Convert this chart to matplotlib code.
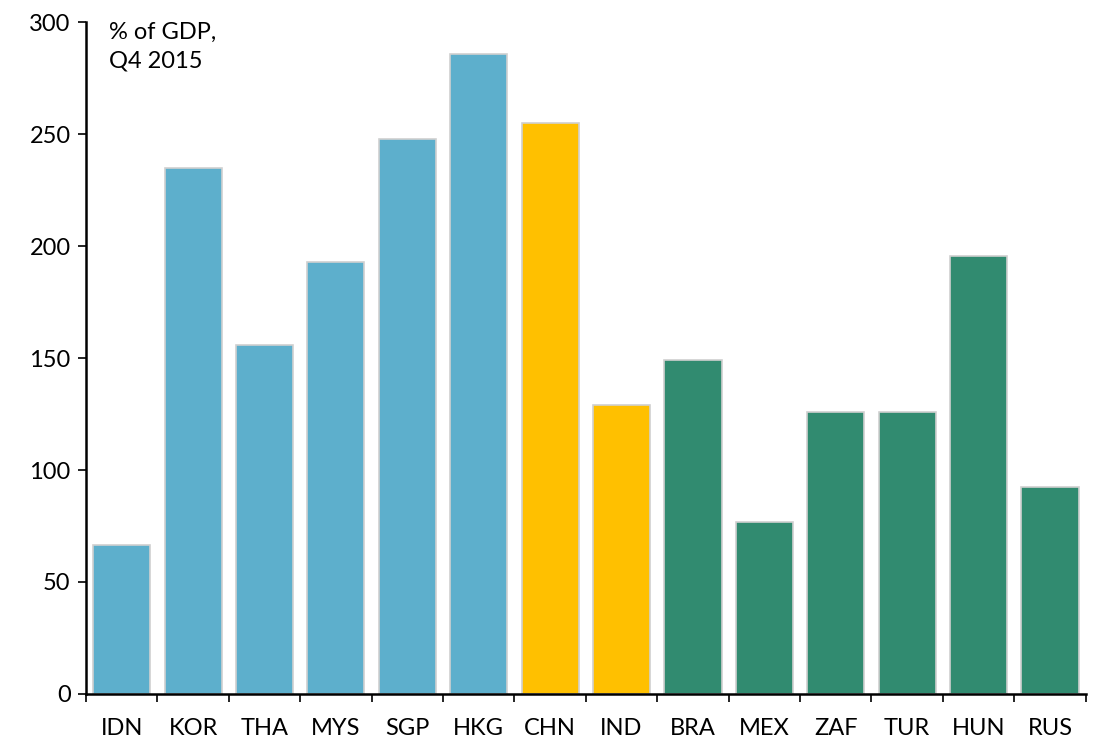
import matplotlib.pyplot as plt
import numpy as np

countries = ['IDN', 'KOR', 'THA', 'MYS', 'SGP', 'HKG', 'CHN',
             'IND', 'BRA', 'MEX', 'ZAF', 'TUR', 'HUN', 'RUS']
debt = [66.5, 235, 156, 193, 248, 286, 255, 129, 149, 77, 126, 126, 195.5, 92.5]
groups = ['asia'] * 6 + ['china'] * 2 + ['em'] * 6

colours = {'asia': '#5DAFCC', 'china': '#FFC000', 'em': '#318B70'}

plt.rcParams['font.family'] = ['Lato', 'DejaVu Sans']

fig = plt.figure(figsize=(10.95, 7.39), dpi=100)
ax = fig.add_axes([0.0785, 0.061, 0.913, 0.909])

x = np.arange(len(countries))
ax.bar(x, debt, width=0.8, color=[colours[g] for g in groups],
       edgecolor='#D0D0D0', linewidth=1.2)

ax.set_xlim(-0.5, len(countries) - 0.5)
ax.set_ylim(0, 300)
ax.set_yticks(range(0, 301, 50))
ax.set_xticks(x)
ax.set_xticklabels(countries)
ax.set_xticks(np.arange(-0.5, len(countries), 1), minor=True)
ax.tick_params(axis='x', which='major', length=0, pad=17, labelsize=17)
ax.tick_params(axis='x', which='minor', length=6, width=1.2, direction='out')
ax.tick_params(axis='y', length=6, width=1.2, labelsize=17, pad=5)

for s in ['top', 'right']:
    ax.spines[s].set_visible(False)
for s in ['left', 'bottom']:
    ax.spines[s].set_linewidth(1.8)

ax.text(0.023, 1.0, '% of GDP,\nQ4 2015', transform=ax.transAxes,
        ha='left', va='top', fontsize=17, linespacing=1.45)

fig.savefig('out.png', dpi=100)
